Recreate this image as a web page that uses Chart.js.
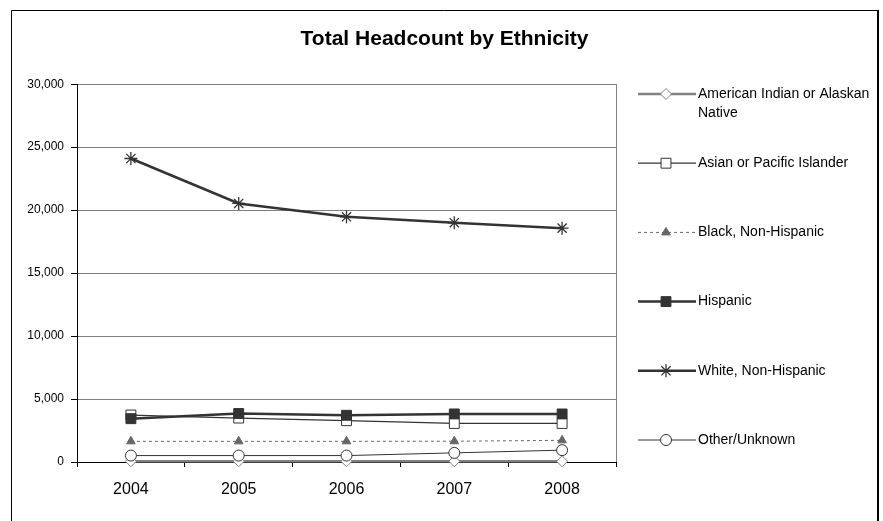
<!DOCTYPE html>
<html>
<head>
<meta charset="utf-8">
<title>Total Headcount by Ethnicity</title>
<script src="https://cdn.jsdelivr.net/npm/chart.js@4/dist/chart.umd.min.js"></script>
<style>
    html, body { margin: 0; padding: 0; background: #fff; }
    #wrap { width: 883px; height: 521px; position: relative; }
</style>
</head>
<body>
<div id="wrap"><canvas id="graficoEtnia"></canvas></div>
<script>
// Datos
const years = ['2004', '2005', '2006', '2007', '2008'];
const americanIndian = [60, 60, 60, 60, 60];
const asianPacific = [3730, 3490, 3280, 3060, 3060];
const blackNonHispanic = [1640, 1640, 1640, 1650, 1720];
const hispanic = [3440, 3850, 3710, 3815, 3815];
const whiteNonHispanic = [24100, 20530, 19470, 19000, 18570];
const otherUnknown = [510, 510, 510, 725, 940];
const yTicks = [0, 5000, 10000, 15000, 20000, 25000, 30000];

Chart.defaults.font.family = '"Liberation Sans", Arial, sans-serif';
Chart.defaults.color = '#000';

// Leyenda lateral dibujada a mano (estilo Excel)
const sideLegend = {
    id: 'sideLegend',
    afterDraw(chart) {
        const ctx = chart.ctx;
        const x0 = chart.chartArea.right + 22;
        ctx.save();
        chart.data.datasets.forEach((ds, i) => {
            const y = 94 + i * 69.2;
            ctx.strokeStyle = ds.borderColor;
            ctx.lineWidth = ds.borderWidth;
            ctx.setLineDash(ds.borderDash || []);
            ctx.beginPath();
            ctx.moveTo(x0, y);
            ctx.lineTo(x0 + 58, y);
            ctx.stroke();
            ctx.setLineDash([]);

            ctx.fillStyle = ds.pointBackgroundColor;
            ctx.strokeStyle = ds.pointBorderColor;
            ctx.lineWidth = ds.pointBorderWidth;
            Chart.helpers.drawPoint(ctx, {
                pointStyle: ds.pointStyle,
                radius: ds.pointRadius,
                rotation: 0,
                borderWidth: ds.pointBorderWidth
            }, x0 + 28, y);

            // texto con salto de línea
            ctx.fillStyle = '#000';
            ctx.font = '14px "Liberation Sans", Arial, sans-serif';
            ctx.textBaseline = 'middle';
            ctx.textAlign = 'left';
            const words = ds.label.split(' ');
            const lines = [];
            let cur = '';
            words.forEach(w => {
                const test = cur ? cur + ' ' + w : w;
                if (ctx.measureText(test).width > 176 && cur) {
                    lines.push(cur);
                    cur = w;
                } else {
                    cur = test;
                }
            });
            lines.push(cur);
            lines.forEach((ln, k) => ctx.fillText(ln, x0 + 60, y + k * 19));
        });
        ctx.restore();
    }
};

// Marco exterior y borde derecho del área de trazado
const frame = {
    id: 'frame',
    afterDraw(chart) {
        const ctx = chart.ctx;
        const a = chart.chartArea;
        ctx.save();
        ctx.strokeStyle = '#000';
        ctx.lineWidth = 1;
        ctx.beginPath();
        ctx.moveTo(11.5, 521);
        ctx.lineTo(11.5, 10.5);
        ctx.lineTo(878, 10.5);
        ctx.stroke();
        ctx.lineWidth = 2;
        ctx.beginPath();
        ctx.moveTo(878, 10);
        ctx.lineTo(878, 521);
        ctx.stroke();
        ctx.strokeStyle = '#808080';
        ctx.lineWidth = 1;
        ctx.beginPath();
        ctx.moveTo(Math.round(a.right) + 0.5, a.top);
        ctx.lineTo(Math.round(a.right) + 0.5, a.bottom);
        ctx.stroke();
        ctx.restore();
    }
};

function serie(label, data, opts) {
    return Object.assign({
        label: label,
        data: data,
        tension: 0,
        fill: false,
        clip: false,
        pointHoverRadius: 6
    }, opts);
}

const datasets = [
    serie('American Indian or Alaskan Native', americanIndian, {
        borderColor: '#808080', borderWidth: 2.5,
        pointStyle: 'rectRot', pointRadius: 5.5,
        pointBackgroundColor: '#fff', pointBorderColor: '#808080', pointBorderWidth: 1,
        order: 6
    }),
    serie('Asian or Pacific Islander', asianPacific, {
        borderColor: '#333', borderWidth: 1.3,
        pointStyle: 'rect', pointRadius: 7,
        pointBackgroundColor: '#fff', pointBorderColor: '#333', pointBorderWidth: 1,
        order: 5
    }),
    serie('Black, Non-Hispanic', blackNonHispanic, {
        borderColor: '#666', borderWidth: 1, borderDash: [3, 3],
        pointStyle: 'triangle', pointRadius: 5,
        pointBackgroundColor: '#666', pointBorderColor: '#666', pointBorderWidth: 1,
        order: 4
    }),
    serie('Hispanic', hispanic, {
        borderColor: '#333', borderWidth: 2.5,
        pointStyle: 'rect', pointRadius: 7,
        pointBackgroundColor: '#333', pointBorderColor: '#333', pointBorderWidth: 1,
        order: 3
    }),
    serie('White, Non-Hispanic', whiteNonHispanic, {
        borderColor: '#333', borderWidth: 2.5,
        pointStyle: 'star', pointRadius: 6.5,
        pointBackgroundColor: '#333', pointBorderColor: '#333', pointBorderWidth: 1.3,
        order: 2
    }),
    serie('Other/Unknown', otherUnknown, {
        borderColor: '#333', borderWidth: 1,
        pointStyle: 'circle', pointRadius: 5.5,
        pointBackgroundColor: '#fff', pointBorderColor: '#333', pointBorderWidth: 1,
        order: 1
    })
];

new Chart(document.getElementById('graficoEtnia'), {
    type: 'line',
    data: { labels: years, datasets: datasets },
    plugins: [sideLegend, frame],
    options: {
        responsive: true,
        maintainAspectRatio: false,
        animation: false,
        layout: { padding: { left: 6, right: 0, top: 0, bottom: 0 } },
        plugins: {
            legend: { display: false },
            tooltip: { enabled: false },
            title: {
                display: true,
                text: 'Total Headcount by Ethnicity',
                color: '#000',
                font: { size: 21, weight: 'bold' },
                padding: { top: 27, bottom: 32 }
            }
        },
        scales: {
            x: {
                offset: true,
                afterFit: s => { s.height = 59; },
                grid: {
                    display: true, drawOnChartArea: false, drawTicks: true,
                    tickLength: 5, tickColor: '#000', offset: true
                },
                border: { color: '#000', width: 1 },
                ticks: { font: { size: 16 }, color: '#000', padding: 13 }
            },
            y: {
                min: 0,
                max: 30000,
                afterFit: s => { s.width = 71; },
                afterBuildTicks: s => { s.ticks = yTicks.map(v => ({ value: v })); },
                grid: { color: '#808080', tickColor: '#000', tickLength: 6, lineWidth: 1 },
                border: { color: '#000', width: 1 },
                ticks: {
                    font: { size: 12 }, color: '#000', padding: 7,
                    callback: v => v.toLocaleString('en-US')
                }
            },
            espacioLeyenda: {
                type: 'linear',
                position: 'right',
                display: true,
                afterFit: s => { s.width = 267; },
                grid: { display: false },
                border: { display: false },
                ticks: { display: false }
            }
        }
    }
});
</script>
</body>
</html>
